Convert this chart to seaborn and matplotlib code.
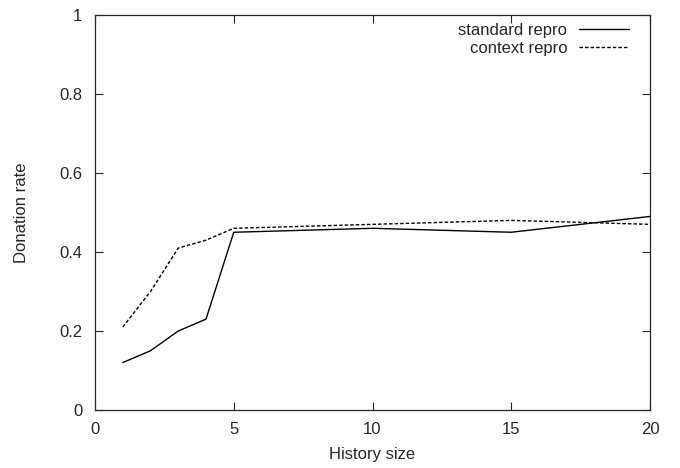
import pandas as pd
import matplotlib
matplotlib.use('Agg')
import matplotlib.pyplot as plt
import seaborn as sns

history_size = [1, 2, 3, 4, 5, 10, 15, 20]
standard_repro = [0.12, 0.15, 0.20, 0.23, 0.45, 0.46, 0.45, 0.49]
context_repro = [0.21, 0.30, 0.41, 0.43, 0.46, 0.47, 0.48, 0.47]
series_names = ['standard repro', 'context repro']

df = pd.concat([
    pd.DataFrame({'History size': history_size, 'Donation rate': standard_repro, 'series': series_names[0]}),
    pd.DataFrame({'History size': history_size, 'Donation rate': context_repro, 'series': series_names[1]}),
])

sns.set_style('ticks')
plt.rcParams['font.family'] = ['Liberation Sans', 'DejaVu Sans']
fs = 12

fig = plt.figure(figsize=(6.8, 4.68), dpi=100)
ax = fig.add_axes([95 / 680, 58 / 468, 555 / 680, 395 / 468])

sns.lineplot(data=df, x='History size', y='Donation rate', hue='series', style='series',
             palette=['black', 'black'], dashes=[(None, None), (2.5, 1.5)],
             linewidth=1.0, ax=ax)

ax.set_xlim(0, 20)
ax.set_ylim(0, 1)
ax.set_xticks([0, 5, 10, 15, 20])
ax.set_yticks([0, 0.2, 0.4, 0.6, 0.8, 1])
ax.set_yticklabels(['0', '0.2', '0.4', '0.6', '0.8', '1'])
ax.tick_params(direction='in', length=6, width=0.8, top=True, right=True, labelsize=fs, pad=9)
for s in ax.spines.values():
    s.set_linewidth(0.9)
    s.set_visible(True)
ax.set_xlabel('History size', fontsize=fs, labelpad=7)
ax.set_ylabel('Donation rate', fontsize=fs, labelpad=22)

handles, labels = ax.get_legend_handles_labels()
ax.legend(handles, labels, loc='upper right', bbox_to_anchor=(0.962, 0.981),
          frameon=False, markerfirst=False, handlelength=3.0, fontsize=fs,
          labelspacing=0.22, borderaxespad=0, borderpad=0, handletextpad=0.7)

fig.savefig('out.png', dpi=100)
